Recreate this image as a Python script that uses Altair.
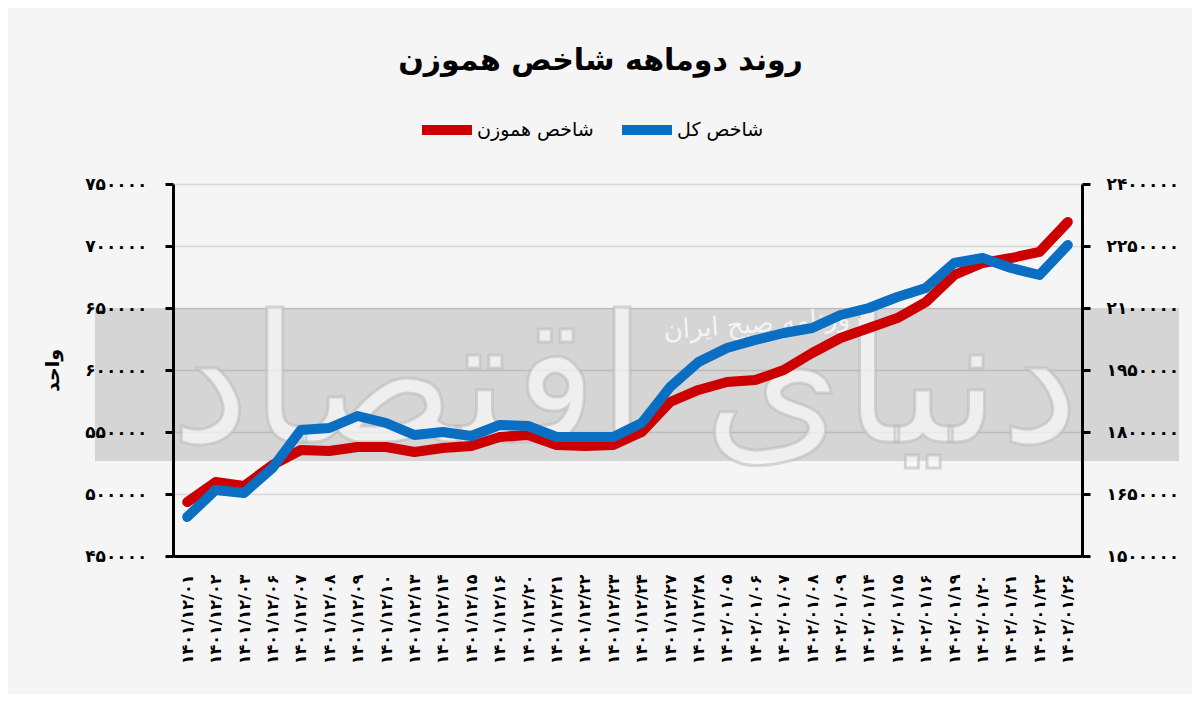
import altair as alt
import pandas as pd

# ---- data ----
dates = [
    "۱۴۰۱/۱۲/۰۱", "۱۴۰۱/۱۲/۰۲", "۱۴۰۱/۱۲/۰۳", "۱۴۰۱/۱۲/۰۶", "۱۴۰۱/۱۲/۰۷",
    "۱۴۰۱/۱۲/۰۸", "۱۴۰۱/۱۲/۰۹", "۱۴۰۱/۱۲/۱۰", "۱۴۰۱/۱۲/۱۳", "۱۴۰۱/۱۲/۱۴",
    "۱۴۰۱/۱۲/۱۵", "۱۴۰۱/۱۲/۱۶", "۱۴۰۱/۱۲/۲۰", "۱۴۰۱/۱۲/۲۱", "۱۴۰۱/۱۲/۲۲",
    "۱۴۰۱/۱۲/۲۳", "۱۴۰۱/۱۲/۲۴", "۱۴۰۱/۱۲/۲۷", "۱۴۰۱/۱۲/۲۸", "۱۴۰۲/۰۱/۰۵",
    "۱۴۰۲/۰۱/۰۶", "۱۴۰۲/۰۱/۰۷", "۱۴۰۲/۰۱/۰۸", "۱۴۰۲/۰۱/۰۹", "۱۴۰۲/۰۱/۱۴",
    "۱۴۰۲/۰۱/۱۵", "۱۴۰۲/۰۱/۱۶", "۱۴۰۲/۰۱/۱۹", "۱۴۰۲/۰۱/۲۰", "۱۴۰۲/۰۱/۲۱",
    "۱۴۰۲/۰۱/۲۲", "۱۴۰۲/۰۱/۲۶",
]
hamvazn = [493500, 509700, 506500, 523400, 535500, 534700, 537900, 537900,
           533900, 537100, 538700, 546000, 547600, 539500, 538700, 539500,
           550000, 574200, 583900, 590300, 591900, 600000, 613700, 625800,
           633900, 641900, 654800, 676600, 686300, 690300, 695200, 719400]
kol = [1594400, 1659700, 1652400, 1713000, 1804800, 1809700, 1838700, 1821800,
       1792700, 1800000, 1790300, 1816900, 1814500, 1787900, 1787900, 1787900,
       1821800, 1908900, 1969400, 2003200, 2022600, 2039500, 2051600, 2083100,
       2100000, 2126600, 2148400, 2208900, 2221000, 2196800, 2179800, 2252400]

name_h = "شاخص هموزن"
name_k = "شاخص کل"
title_text = "روند دوماهه شاخص هموزن"
y_title = "واحد"
left_ticks = [450000, 500000, 550000, 600000, 650000, 700000, 750000]
right_ticks = [1500000, 1650000, 1800000, 1950000, 2100000, 2250000, 2400000]

df = pd.DataFrame({
    "date": dates * 2,
    "series": [name_h] * len(dates) + [name_k] * len(dates),
    "value": hamvazn + kol,
})

FONT = "DejaVu Sans"
RED = "#CC0000"
BLUE = "#0A6FC2"
W, H = 909, 372

fa_digits = "۰۱۲۳۴۵۶۷۸۹"
expr = "format(datum.value, 'd')"
for d in range(10):
    expr = f"join(split({expr}, '{d}'), '{fa_digits[d]}')"

xenc = alt.X("date:N", sort=dates, scale=alt.Scale(type="point", padding=0.5),
             axis=alt.Axis(title=None, labelAngle=-90, labelFontSize=16,
                           labelFont=FONT, labelFontWeight="bold", labelColor="black",
                           labelPadding=18, ticks=False, domainColor="black",
                           domainWidth=3, grid=False))

color = alt.Color("series:N",
                  scale=alt.Scale(domain=[name_h, name_k], range=[RED, BLUE]),
                  legend=alt.Legend(title=None, orient="none", legendX=244, legendY=-84,
                                    direction="horizontal", symbolType="stroke",
                                    symbolStrokeWidth=10, symbolSize=2500,
                                    labelFont=FONT, labelFontSize=19, labelColor="black",
                                    columnPadding=8, labelOffset=0))

band = alt.Chart(pd.DataFrame({"a": [0]})).mark_rect(
    color="black", opacity=0.13, clip=False
).encode(x=alt.value(-78), x2=alt.value(1006), y=alt.value(124), y2=alt.value(277))

logo = alt.Chart(pd.DataFrame({"t": ["دنیای اقتصاد"]})).mark_text(
    font=FONT, fontSize=178, fill="#f7f7f7", fillOpacity=0.75,
    stroke="#bdbdbd", strokeWidth=3, strokeOpacity=0.6
).encode(x=alt.value(452), y=alt.value(205), text="t:N")

wm = alt.Chart(pd.DataFrame({"t": ["روزنامه صبح ایران"]})).mark_text(
    font=FONT, fontSize=26, color="white", opacity=0.75, angle=356
).encode(x=alt.value(590), y=alt.value(140), text="t:N")

base = alt.Chart(df).encode(x=xenc)

red = base.transform_filter(alt.datum.series == name_h).mark_line(
    strokeWidth=10, strokeCap="round", strokeJoin="round"
).encode(
    y=alt.Y("value:Q", scale=alt.Scale(domain=[450000, 750000], nice=False),
            axis=alt.Axis(orient="left", values=left_ticks, labelExpr=expr,
                          title=y_title, titleFont=FONT, titleFontSize=19,
                          titleFontWeight="bold", titleColor="black", titlePadding=22,
                          labelFont=FONT, labelFontSize=17, labelFontWeight="bold",
                          labelColor="black", labelPadding=18, tickSize=8, tickWidth=3,
                          tickColor="black", domainColor="black", domainWidth=3,
                          grid=True, gridColor="#d8d8d8", gridWidth=1.5)),
    color=color,
)

blue = base.transform_filter(alt.datum.series == name_k).mark_line(
    strokeWidth=10, strokeCap="round", strokeJoin="round"
).encode(
    y=alt.Y("value:Q", scale=alt.Scale(domain=[1500000, 2400000], nice=False),
            axis=alt.Axis(orient="right", values=right_ticks, labelExpr=expr,
                          title=None, labelFont=FONT, labelFontSize=17,
                          labelFontWeight="bold", labelColor="black", labelPadding=16,
                          tickSize=8, tickWidth=3, tickColor="black",
                          domainColor="black", domainWidth=3, grid=False)),
    color=color,
)

chart = alt.layer(band, logo, wm, red, blue).resolve_scale(y="independent").properties(
    width=W, height=H,
    title=alt.TitleParams(title_text, font=FONT, fontSize=30, fontWeight="bold",
                          color="black", anchor="middle", dx=-27, offset=24),
    autosize=alt.AutoSizeParams(type="none"),
    padding={"left": 165, "top": 176, "right": 110, "bottom": 138},
    background="#f5f5f5",
).configure_view(stroke=None)

chart.save("out.html", embed_options={"renderer": "svg", "actions": False})
